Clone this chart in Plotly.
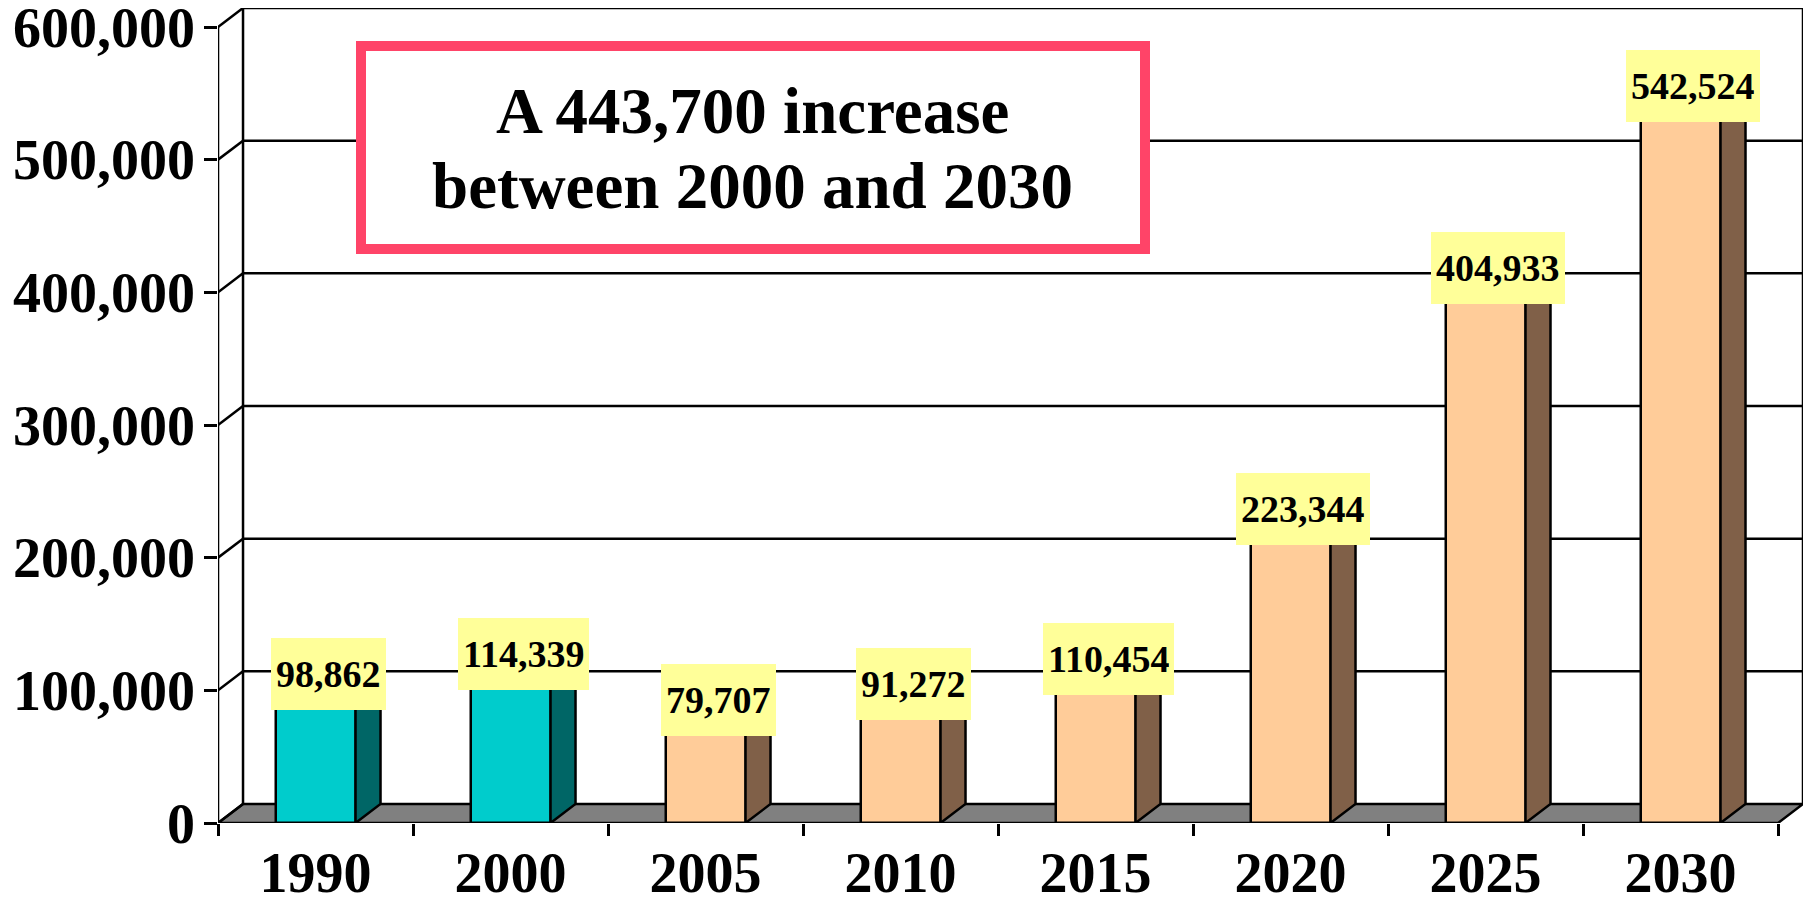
import plotly.graph_objects as go

# ---------------- data ----------------
years = ["1990", "2000", "2005", "2010", "2015", "2020", "2025", "2030"]
population = [98862, 114339, 79707, 91272, 110454, 223344, 404933, 542524]
is_history = [True, True, False, False, False, False, False, False]
y_tick_values = [0, 100000, 200000, 300000, 400000, 500000, 600000]
note_lines = ["A 443,700 increase", "between 2000 and 2030"]

# ---------------- layout geometry ----------------
PAGE_W, PAGE_H = 1811, 904
OFF = 8                      # default body margin of the html page
W, H = PAGE_W - OFF, PAGE_H - OFF
ML, MR, MT, MB = 218 - OFF, 8, 8 - OFF, PAGE_H - 823
plot_w = W - ML - MR
plot_h = H - MT - MB
n = len(years)
depth_px_x, depth_px_y = 25, 19
y_max = max(y_tick_values)

x_per_px = n / (plot_w - depth_px_x)
y_per_px = y_max / (plot_h - depth_px_y)
dxu = depth_px_x * x_per_px
dyu = depth_px_y * y_per_px
x0f, x1f = -0.5, n - 0.5
bw = 80 * x_per_px


def paper_x(page_x):
    return (page_x - OFF - ML) / plot_w


def paper_y(page_y):
    return (OFF + MT + plot_h - page_y) / plot_h


FONT = "Liberation Serif, Times New Roman, serif"
front_col = {True: "#00CCCC", False: "#FFCC99"}
side_col = {True: "#006666", False: "#806048"}
top_col = {True: "#33E0E0", False: "#FFDDB8"}
LW = 2.5

fig = go.Figure()

# front faces
fig.add_trace(go.Bar(
    x=list(range(n)), y=population, width=bw,
    marker=dict(color=[front_col[h] for h in is_history],
                line=dict(color="black", width=LW)),
    hoverinfo="skip", showlegend=False))

# side and top faces
for i, (v, h) in enumerate(zip(population, is_history)):
    xr = i + bw / 2
    xl = i - bw / 2
    fig.add_trace(go.Scatter(
        x=[xr, xr + dxu, xr + dxu, xr, xr],
        y=[0, dyu, v + dyu, v, 0],
        fill="toself", fillcolor=side_col[h], mode="lines",
        line=dict(color="black", width=LW), hoverinfo="skip", showlegend=False))
    fig.add_trace(go.Scatter(
        x=[xl, xr, xr + dxu, xl + dxu, xl],
        y=[v, v, v + dyu, v + dyu, v],
        fill="toself", fillcolor=top_col[h], mode="lines",
        line=dict(color="black", width=LW), hoverinfo="skip", showlegend=False))

shapes = []
# floor
shapes.append(dict(
    type="path", xref="x", yref="y", layer="below",
    path=f"M {x0f},0 L {x1f},0 L {x1f + dxu},{dyu} L {x0f + dxu},{dyu} Z",
    fillcolor="#808080", line=dict(color="black", width=LW)))
# back wall gridlines and left-wall diagonals
for v in y_tick_values:
    if v > 0:
        shapes.append(dict(type="line", xref="x", yref="y", layer="below",
                           x0=x0f + dxu, x1=x1f + dxu, y0=v + dyu, y1=v + dyu,
                           line=dict(color="black", width=LW)))
    shapes.append(dict(type="line", xref="x", yref="y", layer="below",
                       x0=x0f, x1=x0f + dxu, y0=v, y1=v + dyu,
                       line=dict(color="black", width=LW)))
# back wall verticals
for xv in (x0f + dxu, x1f + dxu):
    shapes.append(dict(type="line", xref="x", yref="y", layer="below",
                       x0=xv, x1=xv, y0=dyu, y1=y_max + dyu,
                       line=dict(color="black", width=LW)))
# front value axis line
shapes.append(dict(type="line", xref="x", yref="y", layer="above",
                   x0=x0f, x1=x0f, y0=0, y1=y_max,
                   line=dict(color="black", width=LW)))

# note box (page pixel positions)
bx0, bx1, by0, by1 = 361, 1145, 46, 249
shapes.append(dict(type="rect", xref="paper", yref="paper", layer="above",
                   x0=paper_x(bx0), x1=paper_x(bx1),
                   y0=paper_y(by1), y1=paper_y(by0),
                   fillcolor="white", line=dict(color="#FF4468", width=10)))

annotations = []
for line, ypx in zip(note_lines, (111, 186)):
    annotations.append(dict(
        xref="paper", yref="paper", x=paper_x(752), y=paper_y(ypx),
        text=line, showarrow=False, xanchor="center", yanchor="middle",
        font=dict(family=FONT, size=65, color="black", weight="bold")))

# data labels
for i, v in enumerate(population):
    annotations.append(dict(
        xref="x", yref="y", x=i + dxu / 2, y=v + dyu / 2 + 8 * y_per_px,
        text=f"{v:,}", showarrow=False, xanchor="center", yanchor="middle",
        bgcolor="#FFFF99", borderpad=5, borderwidth=0, height=62,
        font=dict(family=FONT, size=38, color="black", weight="bold")))

fig.update_layout(
    width=W, height=H, margin=dict(l=ML, r=MR, t=MT, b=MB, autoexpand=False),
    paper_bgcolor="white", plot_bgcolor="white",
    shapes=shapes, annotations=annotations, bargap=0,
    xaxis=dict(range=[x0f - 1e-4, x1f + dxu], tickmode="array",
               tickvals=list(range(n)), ticktext=years, ticks="",
               showgrid=False, zeroline=False, showline=False,
               ticklabelstandoff=12, automargin=False,
               tickfont=dict(family=FONT, size=56, color="black", weight="bold"),
               minor=dict(tickmode="array",
                          tickvals=[i - 0.5 for i in range(n + 1)],
                          ticks="outside", ticklen=12, tickwidth=LW,
                          tickcolor="black", showgrid=False),
               fixedrange=True),
    yaxis=dict(range=[0, y_max + dyu], tickmode="array",
               tickvals=y_tick_values, ticktext=[f"{v:,}" for v in y_tick_values],
               ticks="", showgrid=False, zeroline=False, showline=False,
               ticklabelstandoff=22, automargin=False, ticklabeloverflow="allow",
               tickfont=dict(family=FONT, size=56, color="black", weight="bold"),
               minor=dict(tickmode="array", tickvals=y_tick_values,
                          ticks="outside", ticklen=13, tickwidth=LW,
                          tickcolor="black", showgrid=False),
               fixedrange=True),
)

fig.write_html("out.html")
